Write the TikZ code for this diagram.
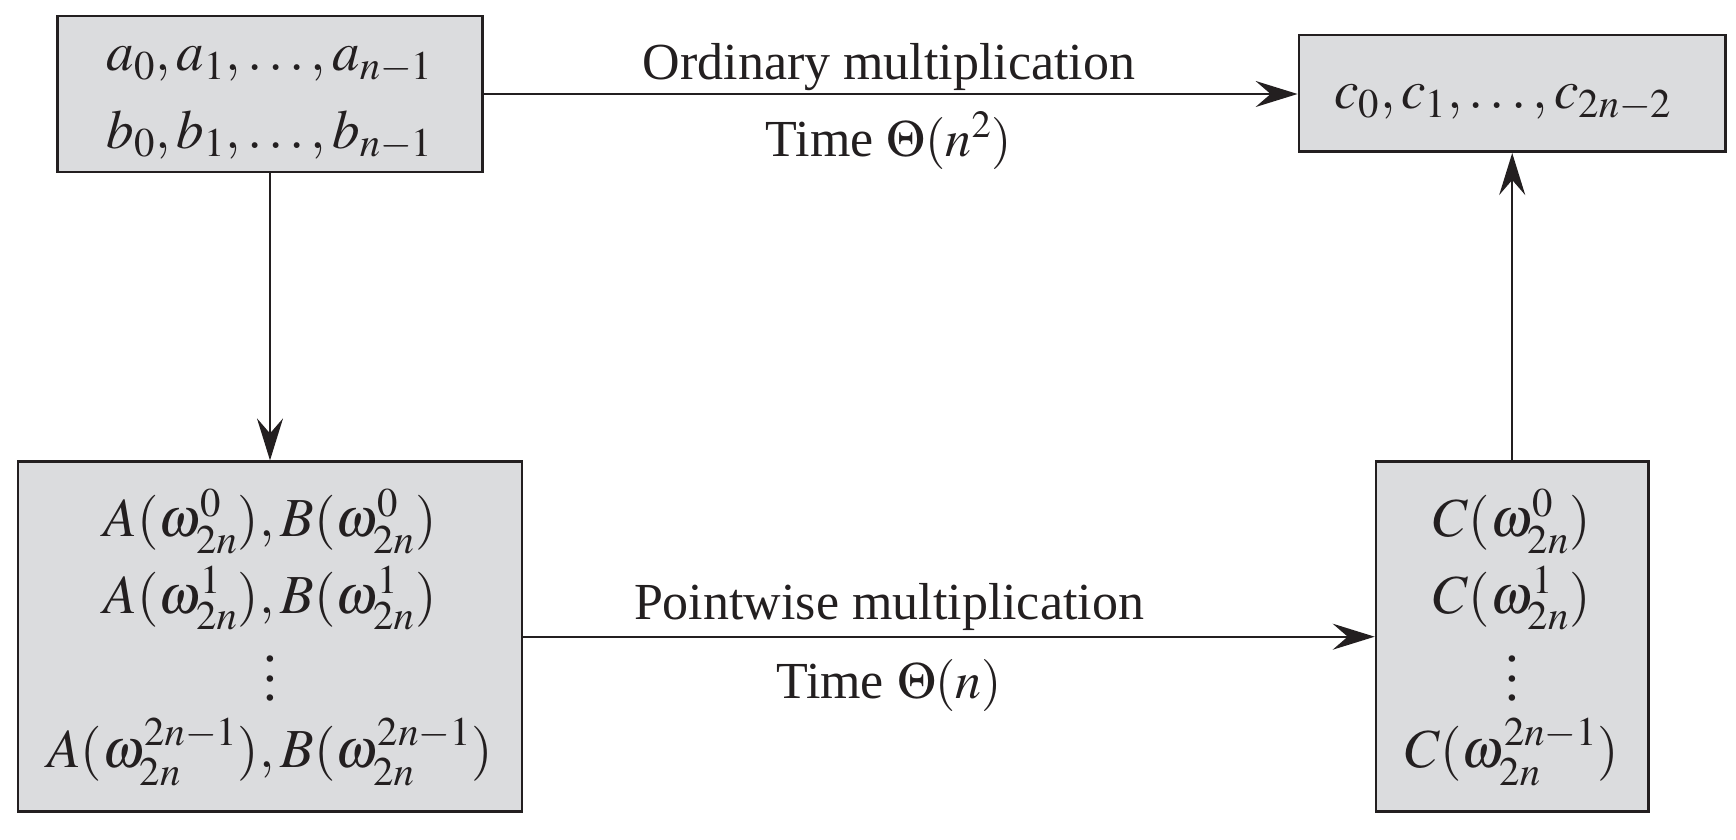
\documentclass[tikz,border=0pt]{standalone}
\usepackage{mathptmx}
\usepackage{fontspec}
\setmainfont{Liberation Serif}
\usetikzlibrary{arrows.meta}
\definecolor{boxfill}{RGB}{219,220,222}
\definecolor{ink}{RGB}{35,31,32}
\newcommand{\boxfont}{\fontsize{27.5}{38.6}\selectfont}
\newcommand{\lblfont}{\fontsize{26}{31}\selectfont}
\newcommand{\myvdots}{\lower5pt\vbox{\baselineskip=9.8pt\lineskiplimit=0pt\hbox{.}\hbox{.}\hbox{.}}}
\begin{document}
\begin{tikzpicture}[x=0.5pt,y=-0.5pt,
  box/.style={draw=ink,fill=boxfill,line width=1.3pt,inner sep=0pt,font=\boxfont,text=ink},
  conn/.style={draw=ink,line width=1pt,-{Stealth[length=21pt,width=13pt,inset=7.5pt]}},
  lbl/.style={anchor=base,inner sep=0pt,font=\lblfont,text=ink}]
\useasboundingbox (0,0) rectangle (1736,840);
\node[box,minimum width=212.5pt,minimum height=78pt] (ab) at (270,94)
  {\begin{tabular}{@{}c@{}}$a_0,a_1,\ldots,a_{n-1}$\\ $b_0,b_1,\ldots,b_{n-1}$\end{tabular}};
\node[box,minimum width=213.4pt,minimum height=58.4pt] (cc) at (1512.3,93.3)
  {\begin{tabular}{@{}c@{}}$c_0,c_1,\ldots,c_{2n-2}$\kern9pt\end{tabular}};
\node[box,minimum width=252pt,minimum height=175pt] (AB) at (270,636.7)
  {\begin{tabular}{@{}c@{}}$A(\omega_{2n}^0),B(\omega_{2n}^0)$\\ $A(\omega_{2n}^1),B(\omega_{2n}^1)$\\ \myvdots\\ $A(\omega_{2n}^{2n-1}),B(\omega_{2n}^{2n-1})$\end{tabular}};
\node[box,minimum width=136.2pt,minimum height=175pt] (C) at (1512.2,636.7)
  {\begin{tabular}{@{}c@{}}$C(\omega_{2n}^0)$\\ $C(\omega_{2n}^1)$\\ \myvdots\\ $C(\omega_{2n}^{2n-1})$\end{tabular}};
\draw[conn] (ab.east) -- (ab.east -| cc.west);
\draw[conn] (ab.south) -- (AB.north);
\draw[conn] (AB.east) -- (C.west);
\draw[conn] (C.north) -- (C.north |- cc.south);
\node[lbl] (ordlbl) at (889,80) {Ordinary multiplication};
\node[lbl] (ordtime) at (889,156) {Time $\Theta(n^2)$};
\node[lbl] (ptlbl) at (889,619) {Pointwise multiplication};
\node[lbl] (pttime) at (889,698) {Time $\Theta(n)$};
\end{tikzpicture}
\end{document}
